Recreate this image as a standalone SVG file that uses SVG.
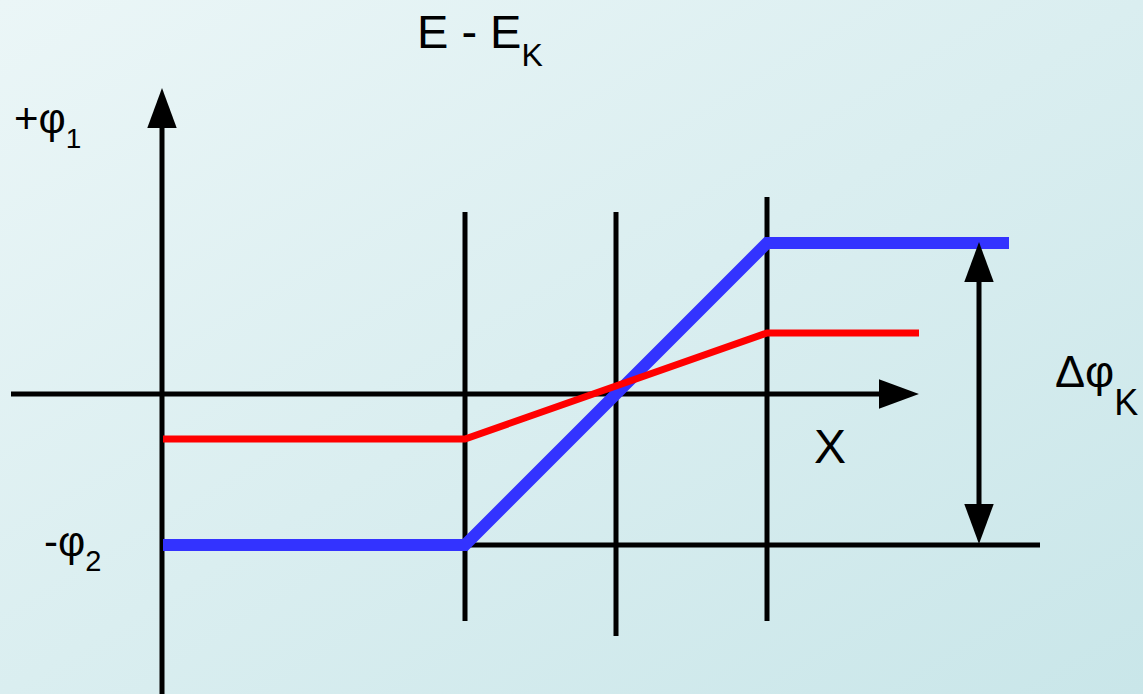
<svg xmlns="http://www.w3.org/2000/svg" width="1143" height="694" viewBox="0 0 1143 694">
  <defs>
    <linearGradient id="bg" x1="0" y1="0" x2="1" y2="1">
      <stop offset="0" stop-color="#ebf6f7"/>
      <stop offset="1" stop-color="#c9e6e9"/>
    </linearGradient>
    <marker id="arr" markerUnits="userSpaceOnUse" markerWidth="40" markerHeight="30" viewBox="0 0 38 28" refX="20" refY="14" orient="auto-start-reverse">
      <path d="M0,0 L38,14 L0,28 Z" fill="#000"/>
    </marker>
    <style>
      .ax { stroke:#000; stroke-width:5; fill:none; }
      .blue { stroke:#3333ff; stroke-width:12; fill:none; stroke-linejoin:miter; }
      .red { stroke:#ff0000; stroke-width:7; fill:none; stroke-linejoin:miter; }
      text { font-family:"Liberation Sans", Arial, sans-serif; fill:#000; }
    </style>
  </defs>
  <rect width="1143" height="694" fill="url(#bg)"/>

  <g id="guides">
    <line class="ax" x1="465" y1="212" x2="465" y2="621"/>
    <line class="ax" x1="616" y1="212" x2="616" y2="636"/>
    <line class="ax" x1="767" y1="197" x2="767" y2="621"/>
    <line class="ax" x1="465" y1="545" x2="1040" y2="545"/>
  </g>

  <g id="axes">
    <line class="ax" x1="11" y1="394" x2="900" y2="394" marker-end="url(#arr)"/>
    <line class="ax" x1="162" y1="694" x2="162" y2="107" marker-end="url(#arr)"/>
  </g>

  <g id="curves">
    <path class="blue" d="M163,545 H465 L767,243 H1009"/>
    <path class="red" d="M163,439 H465 L767,333 H919"/>
  </g>

  <g id="delta-arrow">
    <line class="ax" x1="979" y1="261" x2="979" y2="525" marker-start="url(#arr)" marker-end="url(#arr)"/>
  </g>

  <g id="labels">
    <text x="417" y="48" font-size="47">E - E<tspan font-size="32" dy="18">K</tspan></text>
    <text x="14" y="133" font-size="42">+φ<tspan font-size="28" dy="15">1</tspan></text>
    <text x="44" y="556" font-size="42">-φ<tspan font-size="29" dy="15">2</tspan></text>
    <text x="814" y="463" font-size="48">X</text>
    <text x="1055" y="387" font-size="45">Δφ<tspan font-size="36" dy="28">K</tspan></text>
  </g>
</svg>
